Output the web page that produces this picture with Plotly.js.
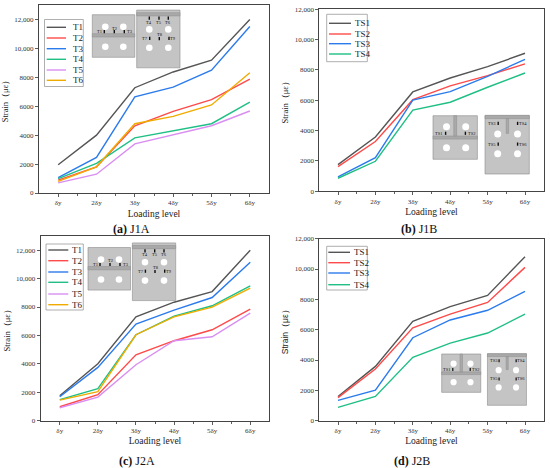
<!DOCTYPE html>
<html>
<head>
<meta charset="utf-8">
<script src="https://cdn.plot.ly/plotly-3.0.1.min.js"></script>
<style>html,body{margin:0;padding:0;background:#fff;}#chart{width:550px;height:468px;}</style>
</head>
<body>
<div id="chart"></div>
<script>
// ---------- DATA ----------
const categories = ['δy', '2δy', '3δy', '4δy', '5δy', '6δy'];
const levels = [1, 2, 3, 4, 5, 6];
const yTickVals = [0, 2000, 4000, 6000, 8000, 10000, 12000];
const yTickText = ['0', '2000', '4000', '6000', '8000', '10,000', '12,000'];

const namesA = ['T1', 'T2', 'T3', 'T4', 'T5', 'T6'];
const namesB = ['TS1', 'TS2', 'TS3', 'TS4'];

const j1a_T1 = [1950, 4000, 7280, 8370, 9180, 12000];
const j1a_T2 = [890, 1810, 4650, 5650, 6460, 7870];
const j1a_T3 = [1070, 2460, 6650, 7320, 8490, 11510];
const j1a_T4 = [1000, 2050, 3810, 4320, 4790, 6280];
const j1a_T5 = [700, 1300, 3400, 4050, 4650, 5670];
const j1a_T6 = [810, 1810, 4790, 5300, 6090, 8320];

const j1b_TS1 = [1760, 3580, 6550, 7470, 8220, 9100];
const j1b_TS2 = [1630, 3280, 6040, 6950, 7630, 8400];
const j1b_TS3 = [950, 2220, 6020, 6570, 7580, 8700];
const j1b_TS4 = [860, 1980, 5360, 5870, 6860, 7800];

const j2a_T1 = [1760, 4010, 7310, 8340, 9090, 12000];
const j2a_T2 = [980, 1830, 4640, 5630, 6400, 7850];
const j2a_T3 = [1690, 3750, 6800, 7780, 8670, 11160];
const j2a_T4 = [1480, 2250, 6050, 7360, 8090, 9490];
const j2a_T5 = [910, 1660, 3940, 5630, 5910, 7570];
const j2a_T6 = [1450, 2040, 6050, 7310, 7990, 9330];

const j2b_TS1 = [1600, 3580, 6550, 7520, 8260, 10810];
const j2b_TS2 = [1520, 3410, 6130, 7030, 7800, 10110];
const j2b_TS3 = [1340, 2020, 5470, 6640, 7280, 8530];
const j2b_TS4 = [880, 1600, 4180, 5120, 5780, 7030];

const captions = ['(a)', '(b)', '(c)', '(d)'];
const specimens = ['J1A', 'J1B', 'J2A', 'J2B'];

// ---------- STYLE ----------
const colorsA = ['#555555', '#ff4a4a', '#2b7bed', '#1fbf85', '#d98ef2', '#f0ab00'];
const colorsB = ['#555555', '#ff4a4a', '#2b7bed', '#1fbf85'];
const SERIF = 'Liberation Serif, Times New Roman, serif';
const W = 550, H = 468;
const px = x => x / W;
const py = y => 1 - y / H;

const panels = [
  {series: [j1a_T1, j1a_T2, j1a_T3, j1a_T4, j1a_T5, j1a_T6], names: namesA, colors: colorsA,
   box: [39, 5, 269, 193], ymax: 13000},
  {series: [j1b_TS1, j1b_TS2, j1b_TS3, j1b_TS4], names: namesB, colors: colorsB,
   box: [319.3, 9.3, 543.7, 191.3], ymax: 12000},
  {series: [j2a_T1, j2a_T2, j2a_T3, j2a_T4, j2a_T5, j2a_T6], names: namesA, colors: colorsA,
   box: [40.7, 236, 269.3, 420.7], ymax: 13000},
  {series: [j2b_TS1, j2b_TS2, j2b_TS3, j2b_TS4], names: namesB, colors: colorsB,
   box: [319.3, 238.7, 543.7, 420.7], ymax: 12000}
];

const traces = [];
const layout = {
  width: W, height: H,
  margin: {l: 0, r: 0, t: 0, b: 0},
  paper_bgcolor: '#ffffff', plot_bgcolor: '#ffffff',
  showlegend: false,
  font: {family: SERIF, color: '#222'},
  shapes: [], annotations: []
};

panels.forEach((p, i) => {
  const sfx = i === 0 ? '' : String(i + 1);
  p.series.forEach((vals, k) => {
    traces.push({
      type: 'scatter', mode: 'lines', x: levels, y: vals, name: p.names[k],
      xaxis: 'x' + sfx, yaxis: 'y' + sfx,
      line: {color: p.colors[k], width: 1.4}, showlegend: false
    });
  });
  const [x0, y0, x1, y1] = p.box;
  layout['xaxis' + sfx] = {
    domain: [px(x0), px(x1)], anchor: 'y' + sfx, range: [0.5, 6.5],
    tickmode: 'array', tickvals: levels, ticktext: categories,
    ticks: 'outside', ticklen: 3, tickwidth: 0.8, tickcolor: '#333',
    minor: {tickvals: [1.5, 2.5, 3.5, 4.5, 5.5], ticks: 'outside', ticklen: 2, tickcolor: '#333'},
    showline: true, linecolor: '#444', linewidth: 1, mirror: true,
    showgrid: false, zeroline: false,
    tickfont: {family: SERIF, size: 7, color: '#333'},
    title: {text: 'Loading level', font: {family: SERIF, size: 9.5, color: '#222'}, standoff: 3}
  };
  layout['yaxis' + sfx] = {
    domain: [py(y1), py(y0)], anchor: 'x' + sfx, range: [0, p.ymax],
    tickmode: 'array', tickvals: yTickVals, ticktext: yTickText,
    ticks: 'outside', ticklen: 3, tickwidth: 0.8, tickcolor: '#333',
    showline: true, linecolor: '#444', linewidth: 1, mirror: true,
    showgrid: false, zeroline: false,
    tickfont: {family: SERIF, size: 7, color: '#333'},
    title: {text: 'Strain（με）', font: {family: i === 3 ? 'Liberation Sans, Arial, sans-serif' : SERIF, size: 8.5, color: '#222'}, standoff: 4}
  };
  // caption
  const capX = [131, 419, 137.3, 412.3][i];
  const capY = [229, 229, 460.7, 460.7][i];
  layout.annotations.push({
    xref: 'paper', yref: 'paper', x: px(capX), y: py(capY), xanchor: 'center', yanchor: 'middle',
    text: '<b>' + captions[i] + '</b> ' + specimens[i], showarrow: false,
    font: {family: SERIF, size: 12, color: '#111'}
  });
});

// ---------- custom compact legends ----------
const legends = [
  {box: [44.5, 19.5, 83.3, 86.5], rows: [27.3, 38, 48.7, 59.3, 70, 80.3], lx: [46.7, 66], tx: 70.5},
  {box: [326.7, 14.3, 367.3, 61.7], rows: [23.3, 34, 43.7, 54], lx: [329, 351], tx: 353.3},
  {box: [46, 244, 83.3, 310], rows: [250, 260.7, 272, 282.3, 294, 304.7], lx: [48.3, 68.3], tx: 70},
  {box: [326.7, 246.3, 367.3, 290], rows: [252.3, 262.7, 273, 284.7], lx: [328.3, 350], tx: 352.3}
];
legends.forEach((lg, i) => {
  const p = panels[i];
  layout.shapes.push({type: 'rect', xref: 'paper', yref: 'paper',
    x0: px(lg.box[0]), x1: px(lg.box[2]), y0: py(lg.box[3]), y1: py(lg.box[1]),
    line: {color: '#9a9a9a', width: 0.8}, fillcolor: '#ffffff'});
  p.names.forEach((nm, k) => {
    layout.shapes.push({type: 'line', xref: 'paper', yref: 'paper',
      x0: px(lg.lx[0]), x1: px(lg.lx[1]), y0: py(lg.rows[k]), y1: py(lg.rows[k]),
      line: {color: p.colors[k], width: 1.4}});
    layout.annotations.push({xref: 'paper', yref: 'paper', x: px(lg.tx), y: py(lg.rows[k]),
      xanchor: 'left', yanchor: 'middle', text: nm, showarrow: false,
      font: {family: SERIF, size: 9, color: '#222'}});
  });
});

// ---------- plate sketches (insets) ----------
const PLATE = '#c4c4c4', EDGE = '#8c8c8c', BAND = '#a9a9a9';
function rectPx(x0, y0, x1, y1, fill, lineColor, lw) {
  layout.shapes.push({type: 'rect', xref: 'paper', yref: 'paper',
    x0: px(x0), x1: px(x1), y0: py(y1), y1: py(y0),
    fillcolor: fill, line: {color: lineColor || fill, width: lw === undefined ? 0.6 : lw}});
}
function circlePx(cx, cy, r) {
  layout.shapes.push({type: 'circle', xref: 'paper', yref: 'paper',
    x0: px(cx - r), x1: px(cx + r), y0: py(cy + r), y1: py(cy - r),
    fillcolor: '#ffffff', line: {color: '#ffffff', width: 0}});
}
function labelPx(x, y, t, anchor, size) {
  layout.annotations.push({xref: 'paper', yref: 'paper', x: px(x), y: py(y), text: t,
    xanchor: anchor || 'center', yanchor: 'middle', showarrow: false,
    font: {family: SERIF, size: size || 4.5, color: '#111'}});
}
function gaugePx(x, y, s) {
  rectPx(x - 0.7 * s, y - 1.6 * s, x + 0.7 * s, y + 1.6 * s, '#111111', '#111111', 0);
}

// Type A insets (specimens J1A / J2A)
function insetA(ox, oy, s) {
  const X = v => ox + v * s, Y = v => oy + v * s;
  // left plate
  rectPx(X(0), Y(0), X(42.5), Y(42.6), PLATE, EDGE, 0.6);
  rectPx(X(0), Y(19), X(42.5), Y(22.3), BAND, EDGE, 0.5);
  [[13, 12], [31, 12], [13, 32], [31, 32]].forEach(c => circlePx(X(c[0]), Y(c[1]), 3.3 * s));
  gaugePx(X(12), Y(17), s); gaugePx(X(22), Y(17), s); gaugePx(X(32), Y(17), s);
  labelPx(X(7.6), Y(17), 'T1'); labelPx(X(22.4), Y(13.3), 'T2'); labelPx(X(37.8), Y(17), 'T3');
  // right plate
  const rx = 44.4, ry = -4.6;
  rectPx(X(rx), Y(ry), X(rx + 43.3), Y(ry + 57.7), PLATE, EDGE, 0.6);
  rectPx(X(rx), Y(ry + 2.6), X(rx + 43.3), Y(ry + 5.8), BAND, EDGE, 0.5);
  [[12.6, 19.3], [31.6, 19.3], [12.6, 37.7], [31.6, 37.7]].forEach(c => circlePx(X(rx + c[0]), Y(ry + c[1]), 3.3 * s));
  [[12.6, 'T4'], [22.3, 'T5'], [31.6, 'T6']].forEach(g => {
    gaugePx(X(rx + g[0]), Y(ry + 8), s); labelPx(X(rx + g[0]), Y(ry + 12), g[1]);
  });
  gaugePx(X(rx + 13), Y(ry + 28.3), s); labelPx(X(rx + 8.6), Y(ry + 28.3), 'T7');
  gaugePx(X(rx + 22.6), Y(ry + 28.6), s); labelPx(X(rx + 23.2), Y(ry + 24.4), 'T8');
  gaugePx(X(rx + 32.3), Y(ry + 28.3), s); labelPx(X(rx + 36.4), Y(ry + 28.3), 'T9');
}
// Type B insets (specimens J1B / J2B)
function insetB(ox, oy, s) {
  const X = v => ox + v * s, Y = v => oy + v * s;
  // left plate
  rectPx(X(0), Y(0), X(44.4), Y(43.6), PLATE, EDGE, 0.6);
  rectPx(X(0), Y(20.3), X(44.4), Y(23.4), BAND, EDGE, 0.5);
  rectPx(X(20.8), Y(0), X(23.6), Y(20.3), BAND, EDGE, 0.5);
  [[13.5, 11], [32.7, 11], [13.5, 32], [32.7, 32]].forEach(c => circlePx(X(c[0]), Y(c[1]), 3.5 * s));
  gaugePx(X(12.6), Y(17.6), s); labelPx(X(6.4), Y(17.6), 'TS1');
  gaugePx(X(32.4), Y(17.6), s); labelPx(X(38.6), Y(17.6), 'TS2');
  // right plate
  const rx = 52, ry = -0.3;
  rectPx(X(rx), Y(ry), X(rx + 44.3), Y(ry + 58.6), PLATE, EDGE, 0.6);
  rectPx(X(rx), Y(ry), X(rx + 44.3), Y(ry + 3.2), BAND, EDGE, 0.5);
  rectPx(X(rx + 21.2), Y(ry + 3.2), X(rx + 23.6), Y(ry + 18), BAND, EDGE, 0.5);
  [[12.7, 18.7], [32.5, 18.7], [12.7, 38.3], [32.5, 38.3]].forEach(c => circlePx(X(rx + c[0]), Y(ry + c[1]), 3.5 * s));
  gaugePx(X(rx + 13.2), Y(ry + 8), s); labelPx(X(rx + 7.4), Y(ry + 8), 'TS3');
  gaugePx(X(rx + 32.6), Y(ry + 8), s); labelPx(X(rx + 38), Y(ry + 8), 'TS4');
  gaugePx(X(rx + 13.2), Y(ry + 28.7), s); labelPx(X(rx + 7.4), Y(ry + 28.7), 'TS5');
  gaugePx(X(rx + 32.6), Y(ry + 28.7), s); labelPx(X(rx + 38), Y(ry + 28.7), 'TS6');
}
insetA(92.3, 14.7, 1);
insetA(88, 247.5, 1);
insetB(433, 115.7, 1);
insetB(441.7, 354, 0.88);

Plotly.newPlot('chart', traces, layout, {staticPlot: true, displayModeBar: false});
</script>
</body>
</html>
